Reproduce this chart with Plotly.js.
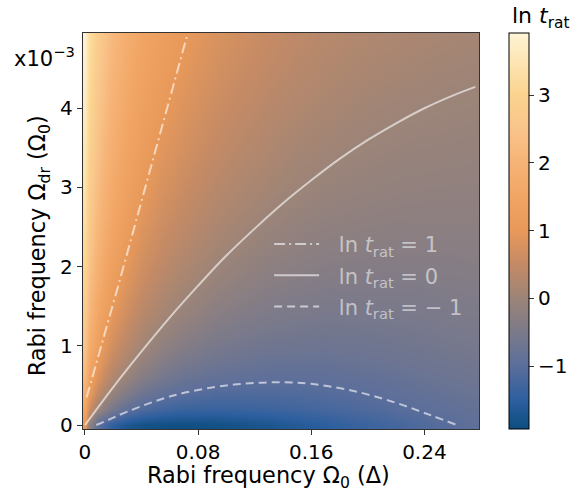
<!DOCTYPE html>
<html>
<head>
<meta charset="utf-8">
<script src="https://cdn.plot.ly/plotly-3.0.1.min.js"></script>
<style>html,body{margin:0;padding:0;background:#fff;}#chart{width:581px;height:493px;}</style>
</head>
<body>
<div id="chart"></div>
<script>
// Rabi frequency Omega_0 (Delta) grid (cell centres)
const omega0 = [0, 0.0028, 0.0084, 0.014, 0.02, 0.03, 0.04, 0.055, 0.07, 0.09, 0.11, 0.13, 0.15, 0.17, 0.19, 0.21, 0.23, 0.25, 0.2766];
// Rabi frequency Omega_dr (x1e-3 Omega_0)
const omegaDr = [0, 0.2, 0.4, 0.6, 0.8, 1.0, 1.4, 1.8, 2.2, 2.6, 3.0, 3.5, 4.0, 4.5, 4.9];
// ln t_rat, one row per omegaDr value
const lnTrat = [
  [1.0,-0.17,-0.95,-1.25,-1.5,-1.72,-1.82,-1.87,-1.88,-1.85,-1.80,-1.72,-1.62,-1.52,-1.40,-1.30,-1.18,-1.06,-0.95],
  [1.51,0.65,0.03,-0.31,-0.58,-0.91,-1.12,-1.28,-1.35,-1.38,-1.36,-1.33,-1.28,-1.23,-1.16,-1.09,-1.01,-0.94,-0.85],
  [1.85,1.09,0.52,0.16,-0.1,-0.42,-0.69,-0.90,-1.01,-1.10,-1.12,-1.12,-1.10,-1.07,-1.02,-0.96,-0.90,-0.84,-0.77],
  [2.10,1.40,0.85,0.49,0.22,-0.07,-0.37,-0.61,-0.76,-0.87,-0.93,-0.95,-0.95,-0.93,-0.90,-0.86,-0.81,-0.76,-0.70],
  [2.30,1.64,1.09,0.73,0.46,0.16,-0.12,-0.38,-0.55,-0.68,-0.76,-0.81,-0.82,-0.82,-0.79,-0.76,-0.72,-0.68,-0.63],
  [2.47,1.82,1.29,0.92,0.65,0.34,0.07,-0.19,-0.37,-0.53,-0.62,-0.68,-0.70,-0.71,-0.70,-0.68,-0.65,-0.61,-0.57],
  [2.73,2.12,1.59,1.23,0.95,0.63,0.35,0.10,-0.08,-0.27,-0.39,-0.47,-0.51,-0.54,-0.54,-0.53,-0.52,-0.50,-0.47],
  [2.95,2.35,1.83,1.46,1.18,0.85,0.57,0.31,0.13,-0.06,-0.20,-0.29,-0.35,-0.39,-0.41,-0.41,-0.41,-0.40,-0.38],
  [3.12,2.54,2.02,1.65,1.37,1.03,0.74,0.49,0.30,0.11,-0.04,-0.15,-0.22,-0.27,-0.29,-0.31,-0.31,-0.31,-0.30],
  [3.27,2.69,2.18,1.81,1.52,1.18,0.89,0.63,0.45,0.25,0.10,-0.02,-0.10,-0.16,-0.19,-0.21,-0.23,-0.23,-0.23],
  [3.40,2.83,2.31,1.94,1.66,1.32,1.03,0.76,0.57,0.37,0.22,0.10,0.01,-0.06,-0.10,-0.13,-0.15,-0.16,-0.17],
  [3.54,2.98,2.46,2.09,1.81,1.46,1.17,0.90,0.71,0.51,0.35,0.23,0.13,0.06,0.00,-0.04,-0.07,-0.08,-0.10],
  [3.66,3.10,2.59,2.22,1.93,1.59,1.29,1.03,0.83,0.63,0.47,0.34,0.25,0.17,0.10,0.05,0.01,-0.01,-0.03],
  [3.77,3.22,2.71,2.34,2.05,1.70,1.40,1.14,0.94,0.73,0.57,0.45,0.35,0.27,0.20,0.15,0.11,0.07,0.04],
  [3.85,3.30,2.79,2.42,2.13,1.78,1.48,1.21,1.02,0.81,0.65,0.52,0.42,0.34,0.27,0.22,0.18,0.14,0.11]
];
// contour lines
const c1x = [0.0012, 0.024, 0.0727];
const c1y = [0.35, 1.79, 4.95];
const c0x = [0, 0.02, 0.04, 0.06, 0.08, 0.10, 0.12, 0.14, 0.16, 0.18, 0.20, 0.22, 0.24, 0.26, 0.276];
const c0y = [0, 0.48, 0.93, 1.36, 1.76, 2.14, 2.48, 2.80, 3.09, 3.36, 3.60, 3.81, 4.00, 4.16, 4.27];
const cm1x = [0.008, 0.016, 0.03, 0.064, 0.1, 0.12, 0.14, 0.16, 0.19, 0.22, 0.245, 0.263];
const cm1y = [0, 0.06, 0.17, 0.38, 0.5, 0.53, 0.54, 0.52, 0.43, 0.28, 0.12, 0];
const cbTicks = [-1, 0, 1, 2, 3];
const xTicks = [0, 0.08, 0.16, 0.24];
const xTickText = ['0', '0.08', '0.16', '0.24'];
const yTicks = [0, 1, 2, 3, 4];

const zmin = -1.93, zmax = 3.92;
function f(z){ return (z - zmin) / (zmax - zmin); }
const cscale = [
  [0, '#0c4d7f'],
  [f(-1.5), '#2d5f9f'],
  [f(-1.0), '#5b6e9b'],
  [f(-0.5), '#7b7a8a'],
  [f(0.0), '#9c8478'],
  [f(0.5), '#c48a65'],
  [f(1.0), '#e8995a'],
  [f(1.5), '#f1a564'],
  [f(2.0), '#f6b376'],
  [f(2.5), '#f9c48a'],
  [f(3.0), '#fbd38f'],
  [f(3.5), '#fde5b3'],
  [1, '#fff4d6']
];

const lineCol = 'rgba(255,255,255,0.6)';
const pad = '\u2002\u2009';
const traces = [
  {type:'heatmap', x: omega0, y: omegaDr, z: lnTrat, zsmooth:'best', zmin: zmin, zmax: zmax,
   colorscale: cscale, showlegend:false, hoverinfo:'skip',
   colorbar: {x: 1.076, xanchor:'left', xpad:0, ypad:0, y:0.5, yanchor:'middle', len:1, lenmode:'fraction', thickness:20,
     outlinewidth:1, outlinecolor:'#000', ticks:'outside', ticklen:5, tickcolor:'#333',
     tickvals: cbTicks, ticktext: cbTicks.map(v => v < 0 ? '\u2212' + Math.abs(v) : String(v)),
     tickfont:{family:'DejaVu Sans', size:20, color:'#000'}}},
  {type:'scatter', mode:'lines', x:c1x, y:c1y, name:pad + 'ln <i>t</i><sub>rat</sub> = 1', legendgroup:'a',
   line:{color:lineCol, width:2, dash:'11px,4px,2px,4px'}},
  {type:'scatter', mode:'lines', x:c0x, y:c0y, name:pad + 'ln <i>t</i><sub>rat</sub> = 0', legendgroup:'b',
   line:{color:lineCol, width:2, shape:'spline'}},
  {type:'scatter', mode:'lines', x:cm1x, y:cm1y, name:pad + 'ln <i>t</i><sub>rat</sub> = \u2212 1', legendgroup:'c',
   line:{color:lineCol, width:2, dash:'8px,5px', shape:'spline'}}
];

const layout = {
  width:581, height:493,
  margin:{l:83, r:102, t:33, b:64, autoexpand:false},
  paper_bgcolor:'#fff', plot_bgcolor:'#fff',
  font:{family:'DejaVu Sans', size:20, color:'#000'},
  xaxis:{range:[-0.0014, 0.2786], tickvals:xTicks, ticktext:xTickText, ticks:'outside', ticklen:5,
    tickcolor:'#333', showline:true, linecolor:'#333', linewidth:1.3, mirror:true, showgrid:false, zeroline:false,
    tickfont:{size:20}},
  yaxis:{range:[-0.05, 4.95], tickvals:yTicks, ticks:'outside', ticklen:5,
    tickcolor:'#333', showline:true, linecolor:'#333', linewidth:1.3, mirror:true, showgrid:false, zeroline:false,
    tickfont:{size:20}},
  legend:{x:0.47, y:0.518, xanchor:'left', yanchor:'top', bgcolor:'rgba(0,0,0,0)', itemwidth:45,
    font:{family:'DejaVu Sans', size:21, color:'rgba(255,255,255,0.55)'}, tracegroupgap:1},
  annotations:[
    {xref:'paper', yref:'paper', x:-0.18, y:0.94, xanchor:'left', yanchor:'middle', showarrow:false,
     text:'x10<sup>\u22123</sup>', font:{family:'DejaVu Sans', size:21, color:'#000'}},
    {xref:'paper', yref:'paper', x:1.078, y:1.038, xanchor:'left', align:'left', yanchor:'middle', showarrow:false,
     text:'ln <i>t</i><sub>rat</sub>', font:{family:'DejaVu Sans', size:22, color:'#000'}},
    {xref:'paper', yref:'paper', x:0.1566, y:-0.121, xanchor:'left', align:'left', yanchor:'middle', showarrow:false,
     text:'Rabi frequency \u03a9<sub>0</sub> (\u0394)', font:{family:'DejaVu Sans', size:22.4, color:'#000'}},
    {xref:'paper', yref:'paper', x:-0.066, y:0.129, xanchor:'right', yanchor:'bottom', align:'left', showarrow:false, textangle:-90,
     text:'Rabi frequency \u03a9<sub>dr</sub> (\u03a9<sub>0</sub>)', font:{family:'DejaVu Sans', size:22.4, color:'#000'}}
  ]
};
Plotly.newPlot('chart', traces, layout, {displayModeBar:false, staticPlot:true});
</script>
</body>
</html>
